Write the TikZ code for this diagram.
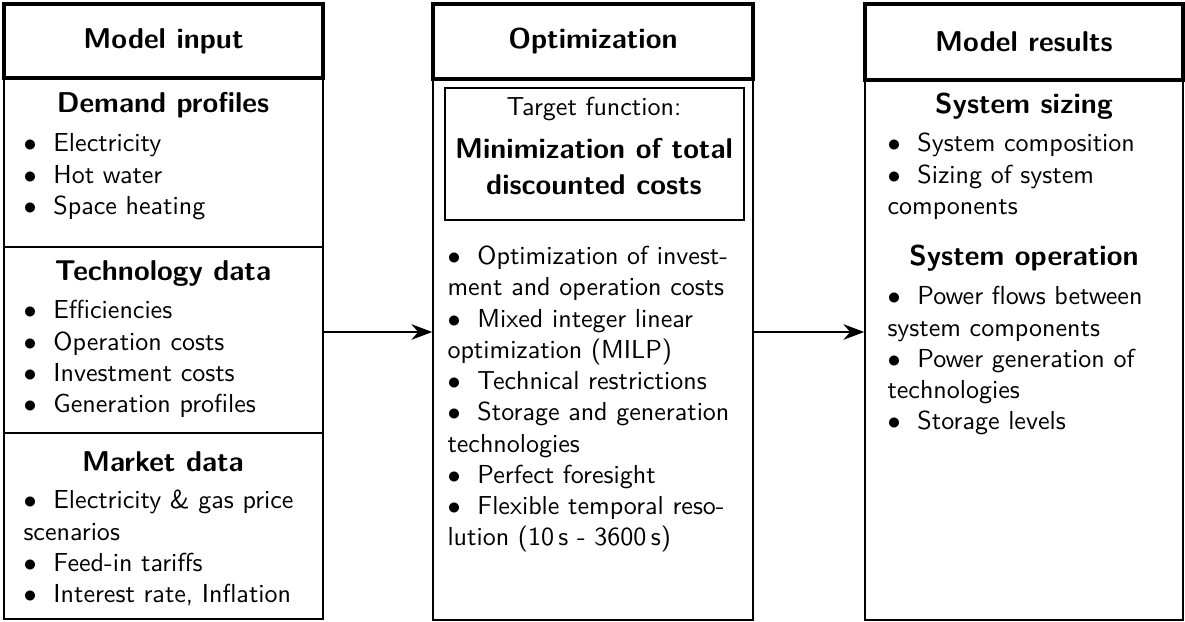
\documentclass[tikz,border=0pt]{standalone}
\usepackage{tikz}
\usetikzlibrary{arrows, arrows.meta, fit, calc}

\tikzset{
  headbox/.style={draw, line width=1.2pt, inner sep=0pt},
  bodybox/.style={draw, line width=0.6pt, inner sep=0pt},
  headtext/.style={inner sep=0pt, font=\fontsize{11}{13.8}\selectfont\bfseries\sffamily},
  title/.style={anchor=base, inner sep=0pt, font=\fontsize{11}{13.8}\selectfont\bfseries\sffamily},
  plain/.style={anchor=base, inner sep=0pt, font=\sffamily},
  list/.style={anchor=base west, align=left, inner sep=0pt, font=\sffamily},
  flow/.style={line width=0.6pt, -{Stealth[length=8pt, width=6pt]}}
}
\newcommand{\itm}{$\bullet$\hspace{0.65em}}

\begin{document}
\begin{tikzpicture}[x=0.01351cm, y=-0.01351cm]
    \useasboundingbox (0,0) rectangle (1185,621);

    \node[bodybox, fit={(4,78) (323,247)}] (demand) {};
    \node[bodybox, fit={(4,247) (323,433)}] (techno) {};
    \node[bodybox, fit={(4,433) (323,619)}] (market) {};
    \node[headbox, fit={(4,4) (323,78)}] (inhead) {};
    \node[headtext] (inheadtext) at (inhead.center) {Model input};

    \node[bodybox, fit={(433,79) (753,620)}] (optbody) {};
    \node[bodybox, fit={(445,88) (744,220)}] (target) {};
    \node[headbox, fit={(433,4) (753,79)}] (opthead) {};
    \node[headtext] (optheadtext) at (opthead.center) {Optimization};

    \node[bodybox, fit={(865,80) (1183,620)}] (resbody) {};
    \node[headbox, fit={(865,4) (1183,80)}] (reshead) {};
    \node[headtext] (resheadtext) at (reshead.center) {Model results};

    % lists sit on the baseline of their last line
    \node[title] (demandtitle) at (163,112) {Demand profiles};
    \node[list] (demandlist) at (23,214.4) {\itm Electricity\\ \itm Hot water\\ \itm Space heating};
    \node[title] (technotitle) at (163,280) {Technology data};
    \node[list] (technolist) at (23,412.6) {\itm Efficiencies\\ \itm Operation costs\\ \itm Investment costs\\ \itm Generation profiles};
    \node[title] (markettitle) at (163,471) {Market data};
    \node[list] (marketlist) at (23,602.6) {\itm Electricity \& gas price\\ scenarios\\ \itm Feed-in tariffs\\ \itm Interest rate, Inflation};

    \node[plain] (targettitle) at (594,115) {Target function:};
    \node[title, align=center] (targettext) at (594,194) {Minimization of total\\ discounted costs};
    \node[list] (optlist) at (447,545.8) {\itm Optimization of invest-\\ ment and operation costs\\ \itm Mixed integer linear\\ optimization (MILP)\\ \itm Technical restrictions\\ \itm Storage and generation\\ technologies\\ \itm Perfect foresight\\ \itm Flexible temporal reso-\\ lution (10\,s - 3600\,s)};

    \node[title] (sizingtitle) at (1024,113) {System sizing};
    \node[list] (sizinglist) at (887,214.4) {\itm System composition\\ \itm Sizing of system\\ components};
    \node[title] (operationtitle) at (1024,265) {System operation};
    \node[list] (operationlist) at (887,429.8) {\itm Power flows between\\ system components\\ \itm Power generation of\\ technologies\\ \itm Storage levels};

    \draw[flow] (techno.east |- 0,332) -- (optbody.west |- 0,332);
    \draw[flow] (optbody.east |- 0,332) -- (resbody.west |- 0,332);
\end{tikzpicture}
\end{document}
